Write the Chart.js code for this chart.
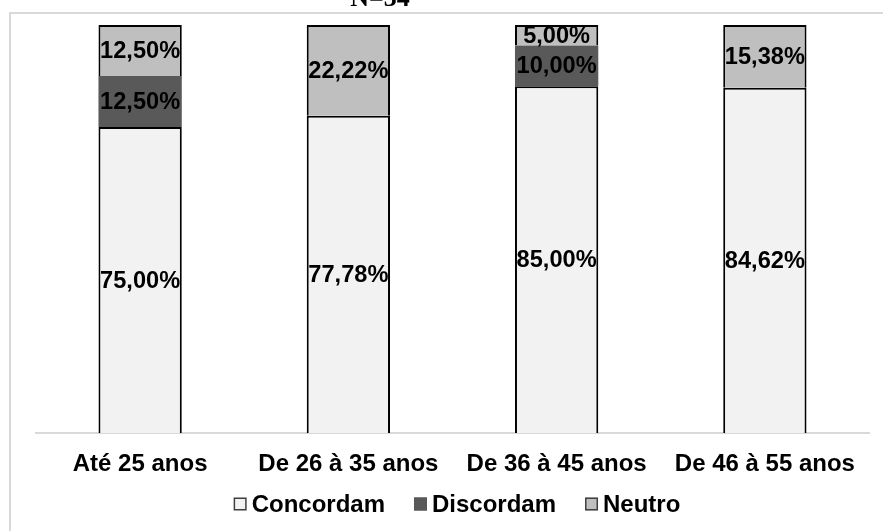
<!DOCTYPE html>
<html>
<head>
<meta charset="utf-8">
<script src="https://cdn.jsdelivr.net/npm/chart.js@4/dist/chart.umd.min.js"></script>
<style>
  html, body { margin: 0; padding: 0; background: #fff; }
  #wrap { width: 883px; height: 531px; position: relative; }
</style>
</head>
<body>
<div id="wrap"><canvas id="c" width="883" height="531"></canvas></div>
<script>
const categories = ['Até 25 anos', 'De 26 à 35 anos', 'De 36 à 45 anos', 'De 46 à 55 anos'];
const concordam = [75.00, 77.78, 85.00, 84.62];
const discordam = [12.50, 0, 10.00, 0];
const neutro = [12.50, 22.22, 5.00, 15.38];
const seriesNames = ['Concordam', 'Discordam', 'Neutro'];
const titleText = 'N=34';

const FONT = '"Liberation Sans", Arial, sans-serif';
const fmt = v => v.toFixed(2).replace('.', ',') + '%';

const framePlugin = {
  id: 'frame',
  beforeDraw(chart) {
    const ctx = chart.ctx;
    ctx.save();
    ctx.fillStyle = '#fff';
    ctx.fillRect(0, 0, chart.width, chart.height);
    ctx.strokeStyle = '#D9D9D9';
    ctx.lineWidth = 2;
    ctx.strokeRect(10, 13, 1000, 1000);
    ctx.restore();
  },
  afterDraw(chart) {
    const ctx = chart.ctx;
    ctx.save();
    ctx.fillStyle = '#000';
    ctx.font = 'bold 26px "Liberation Serif", "Times New Roman", serif';
    ctx.textAlign = 'center';
    ctx.textBaseline = 'alphabetic';
    ctx.fillText(titleText, 380, 6);

    // legend
    ctx.font = 'bold 24px ' + FONT;
    ctx.textBaseline = 'middle';
    ctx.textAlign = 'left';
    const box = 13, gap = 5, spacing = 29, cy = 504;
    const items = chart.data.datasets.map((ds, i) => ({
      text: ds.label, fill: ds.backgroundColor,
      stroke: i === 1 ? ds.backgroundColor : '#404040',
      w: ctx.measureText(ds.label).width
    }));
    let total = 0;
    items.forEach((it, i) => { total += box + gap + it.w + (i < items.length - 1 ? spacing : 0); });
    let x = 457 - total / 2;
    items.forEach(it => {
      ctx.fillStyle = it.fill;
      ctx.fillRect(x, cy - box / 2, box, box);
      ctx.strokeStyle = it.stroke;
      ctx.lineWidth = 1.5;
      ctx.strokeRect(x + 0.75, cy - box / 2 + 0.75, box - 1.5, box - 1.5);
      ctx.fillStyle = '#000';
      ctx.fillText(it.text, x + box + gap, cy + 1);
      x += box + gap + it.w + spacing;
    });
    ctx.restore();
  }
};

const labelPlugin = {
  id: 'segLabels',
  afterDatasetsDraw(chart) {
    const ctx = chart.ctx;
    ctx.save();
    ctx.fillStyle = '#000';
    ctx.font = 'bold 23.6px ' + FONT;
    ctx.textAlign = 'center';
    ctx.textBaseline = 'middle';
    chart.data.datasets.forEach((ds, di) => {
      const meta = chart.getDatasetMeta(di);
      meta.data.forEach((el, i) => {
        const v = ds.data[i];
        if (!v) return;
        const p = el.getProps(['x', 'y', 'base'], true);
        ctx.fillText(fmt(v), p.x, (p.y + p.base) / 2 + 1);
      });
    });
    ctx.restore();
  }
};

new Chart(document.getElementById('c'), {
  type: 'bar',
  data: {
    labels: categories,
    datasets: [
      { label: seriesNames[0], data: concordam, backgroundColor: '#F2F2F2', borderColor: '#000', borderWidth: 2 },
      { label: seriesNames[1], data: discordam, backgroundColor: '#595959', borderColor: '#595959', borderWidth: 0 },
      { label: seriesNames[2], data: neutro, backgroundColor: '#BFBFBF', borderColor: '#000', borderWidth: 2 }
    ]
  },
  options: {
    responsive: false,
    animation: false,
    devicePixelRatio: 1,
    layout: { padding: { top: 25, left: 36, right: 14, bottom: 48 } },
    datasets: { bar: { categoryPercentage: 1.0, barPercentage: 0.4 } },
    scales: {
      x: {
        stacked: true,
        afterFit(scale) { scale.height = 50; },
        grid: { display: false, drawTicks: false },
        border: { display: true, color: '#D9D9D9', width: 2 },
        ticks: {
          color: '#000',
          padding: 17,
          font: { family: FONT, size: 24, weight: 'bold' },
          maxRotation: 0, autoSkip: false
        }
      },
      y: {
        stacked: true,
        display: false,
        min: 0, max: 100
      }
    },
    plugins: {
      legend: { display: false },
      tooltip: { enabled: false },
      title: { display: false }
    }
  },
  plugins: [framePlugin, labelPlugin]
});
</script>
</body>
</html>
